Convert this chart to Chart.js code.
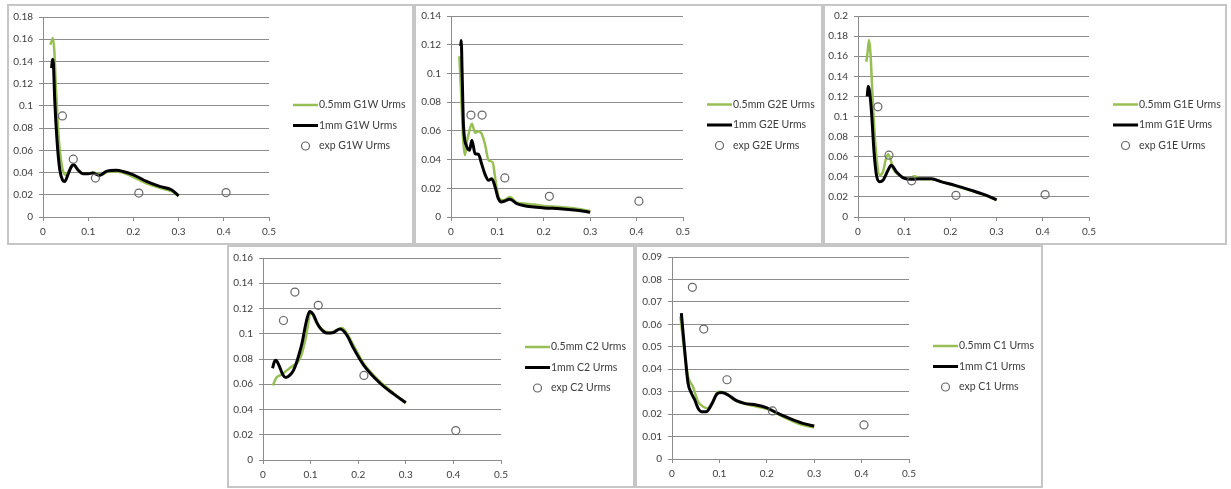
<!DOCTYPE html>
<html>
<head>
<meta charset="utf-8">
<script src="https://cdn.jsdelivr.net/npm/chart.js@4.4.0/dist/chart.umd.min.js"></script>
<style>
  body { margin: 0; background: #fff; width: 1231px; height: 489px; position: relative; overflow: hidden; }
  .panel { position: absolute; box-sizing: border-box; border: 2px solid #c6c6c6; background: #fff; }
  canvas { position: absolute; }
</style>
</head>
<body>
<script>
// shared axis ticks
const xTicks = [0, 0.1, 0.2, 0.3, 0.4, 0.5];
const expX = [0.043, 0.067, 0.116, 0.212, 0.405];

// G1W
const g1wTicks = [0, 0.02, 0.04, 0.06, 0.08, 0.1, 0.12, 0.14, 0.16, 0.18];
const g1wFineX = [0.016, 0.02, 0.022, 0.025, 0.028, 0.032, 0.036, 0.040, 0.044, 0.050, 0.058, 0.068, 0.078, 0.090, 0.100, 0.110, 0.120, 0.130, 0.145, 0.160, 0.175, 0.200, 0.230, 0.260, 0.285, 0.300];
const g1wFineY = [0.155, 0.159, 0.161, 0.150, 0.122, 0.090, 0.065, 0.051, 0.042, 0.038, 0.042, 0.047, 0.042, 0.039, 0.039, 0.040, 0.039, 0.038, 0.041, 0.041, 0.040, 0.036, 0.030, 0.026, 0.023, 0.019];
const g1wCoarseX = [0.019, 0.021, 0.023, 0.026, 0.031, 0.037, 0.043, 0.048, 0.055, 0.063, 0.068, 0.077, 0.088, 0.100, 0.110, 0.125, 0.140, 0.162, 0.177, 0.200, 0.229, 0.258, 0.284, 0.300];
const g1wCoarseY = [0.134, 0.142, 0.138, 0.105, 0.069, 0.043, 0.0335, 0.032, 0.038, 0.0455, 0.047, 0.0425, 0.039, 0.039, 0.0395, 0.0374, 0.041, 0.042, 0.041, 0.038, 0.032, 0.0275, 0.0245, 0.019];
const g1wExpY = [0.091, 0.052, 0.035, 0.0215, 0.022];

// G2E
const g2eTicks = [0, 0.02, 0.04, 0.06, 0.08, 0.1, 0.12, 0.14];
const g2eFineX = [0.018, 0.022, 0.026, 0.030, 0.034, 0.038, 0.045, 0.052, 0.059, 0.066, 0.073, 0.081, 0.090, 0.094, 0.098, 0.104, 0.113, 0.127, 0.142, 0.163, 0.200, 0.235, 0.271, 0.300];
const g2eFineY = [0.112, 0.085, 0.055, 0.043, 0.052, 0.058, 0.065, 0.0586, 0.0598, 0.058, 0.051, 0.0395, 0.038, 0.030, 0.021, 0.0128, 0.0116, 0.014, 0.010, 0.0093, 0.0077, 0.007, 0.0058, 0.0042];
const g2eCoarseX = [0.021, 0.022, 0.024, 0.027, 0.034, 0.040, 0.045, 0.052, 0.059, 0.066, 0.073, 0.081, 0.088, 0.095, 0.102, 0.109, 0.127, 0.142, 0.156, 0.200, 0.235, 0.271, 0.300];
const g2eCoarseY = [0.119, 0.123, 0.100, 0.063, 0.049, 0.0465, 0.0535, 0.044, 0.0437, 0.037, 0.030, 0.0256, 0.0267, 0.021, 0.0128, 0.0105, 0.0123, 0.0093, 0.008, 0.0063, 0.0058, 0.0047, 0.0033];
const g2eExpY = [0.071, 0.071, 0.0272, 0.0144, 0.011];

// G1E
const g1eTicks = [0, 0.02, 0.04, 0.06, 0.08, 0.1, 0.12, 0.14, 0.16, 0.18, 0.2];
const g1eFineX = [0.018, 0.021, 0.024, 0.027, 0.031, 0.035, 0.040, 0.047, 0.054, 0.060, 0.065, 0.070, 0.076, 0.090, 0.108, 0.123, 0.137, 0.159, 0.195, 0.231, 0.267, 0.300];
const g1eFineY = [0.1545, 0.165, 0.176, 0.163, 0.125, 0.090, 0.060, 0.0415, 0.045, 0.057, 0.0625, 0.058, 0.048, 0.0415, 0.038, 0.0405, 0.0375, 0.0375, 0.033, 0.028, 0.023, 0.017];
const g1eCoarseX = [0.020, 0.022, 0.025, 0.029, 0.035, 0.040, 0.047, 0.054, 0.065, 0.072, 0.083, 0.098, 0.116, 0.137, 0.159, 0.181, 0.210, 0.246, 0.275, 0.300];
const g1eCoarseY = [0.120, 0.130, 0.125, 0.106, 0.063, 0.0415, 0.035, 0.0365, 0.0465, 0.0515, 0.045, 0.039, 0.0375, 0.038, 0.038, 0.035, 0.0315, 0.0265, 0.022, 0.017];
const g1eExpY = [0.1096, 0.0615, 0.036, 0.0216, 0.0223];

// C2
const c2Ticks = [0, 0.02, 0.04, 0.06, 0.08, 0.1, 0.12, 0.14, 0.16];
const c2FineX = [0.021, 0.025, 0.029, 0.036, 0.043, 0.050, 0.057, 0.064, 0.071, 0.077, 0.082, 0.087, 0.091, 0.095, 0.098, 0.103, 0.108, 0.113, 0.120, 0.127, 0.141, 0.155, 0.166, 0.176, 0.190, 0.211, 0.246, 0.274, 0.300];
const c2FineY = [0.059, 0.063, 0.0656, 0.067, 0.0688, 0.071, 0.073, 0.075, 0.0767, 0.080, 0.0846, 0.092, 0.099, 0.108, 0.115, 0.116, 0.112, 0.108, 0.105, 0.1026, 0.1005, 0.103, 0.1045, 0.1005, 0.091, 0.0767, 0.062, 0.053, 0.045];
const c2CoarseX = [0.020, 0.024, 0.027, 0.033, 0.042, 0.048, 0.057, 0.064, 0.070, 0.076, 0.082, 0.091, 0.098, 0.106, 0.113, 0.120, 0.134, 0.148, 0.162, 0.176, 0.190, 0.211, 0.246, 0.274, 0.300];
const c2CoarseY = [0.0727, 0.078, 0.079, 0.0754, 0.0674, 0.0653, 0.0674, 0.071, 0.0767, 0.084, 0.0926, 0.1097, 0.1177, 0.115, 0.109, 0.1045, 0.1005, 0.101, 0.1037, 0.099, 0.0886, 0.0754, 0.0608, 0.0524, 0.0455];
const c2ExpY = [0.1105, 0.133, 0.1225, 0.067, 0.0233];

// C1
const c1Ticks = [0, 0.01, 0.02, 0.03, 0.04, 0.05, 0.06, 0.07, 0.08, 0.09];
const c1FineX = [0.0176, 0.0267, 0.034, 0.044, 0.055, 0.065, 0.076, 0.086, 0.097, 0.111, 0.129, 0.150, 0.178, 0.206, 0.234, 0.269, 0.300];
const c1FineY = [0.0635, 0.047, 0.0367, 0.0323, 0.0256, 0.0234, 0.0226, 0.0256, 0.030, 0.0296, 0.0266, 0.0248, 0.0234, 0.0219, 0.0189, 0.0156, 0.014];
const c1CoarseX = [0.0197, 0.0267, 0.0338, 0.041, 0.048, 0.055, 0.062, 0.072, 0.083, 0.095, 0.104, 0.118, 0.136, 0.153, 0.178, 0.199, 0.220, 0.248, 0.276, 0.300];
const c1CoarseY = [0.065, 0.0486, 0.0338, 0.0293, 0.0263, 0.0226, 0.0211, 0.0211, 0.0241, 0.029, 0.0296, 0.0286, 0.026, 0.0248, 0.0241, 0.0229, 0.0207, 0.0181, 0.0159, 0.0147];
const c1ExpY = [0.0765, 0.0579, 0.0353, 0.0214, 0.0152];

const GREEN = '#98bf55';
const GRID = '#8c8c8c';
const TEXT = '#3c3c3c';
const TICK_FONT = { family: 'Lato', size: 10 };
const LEGEND_FONT = '10.5px Lato';

// page boxes: panel border [x1,y1,x2,y2] and plot area [x1,y1,x2,y2]
const panels = [
    { name: 'G1W', box: [7, 4, 414, 245], plot: [43, 17, 269, 217], ticks: g1wTicks, fx: g1wFineX, fy: g1wFineY, cx: g1wCoarseX, cy: g1wCoarseY, ey: g1wExpY },
    { name: 'G2E', box: [414, 4, 823, 245], plot: [451, 16, 683, 217], ticks: g2eTicks, fx: g2eFineX, fy: g2eFineY, cx: g2eCoarseX, cy: g2eCoarseY, ey: g2eExpY },
    { name: 'G1E', box: [823, 4, 1227, 245], plot: [858, 16, 1089, 217], ticks: g1eTicks, fx: g1eFineX, fy: g1eFineY, cx: g1eCoarseX, cy: g1eCoarseY, ey: g1eExpY },
    { name: 'C2', box: [227, 245, 635, 488], plot: [263, 258, 501, 460], ticks: c2Ticks, fx: c2FineX, fy: c2FineY, cx: c2CoarseX, cy: c2CoarseY, ey: c2ExpY },
    { name: 'C1', box: [635, 245, 1043, 488], plot: [672, 257, 909, 459], ticks: c1Ticks, fx: c1FineX, fy: c1FineY, cx: c1CoarseX, cy: c1CoarseY, ey: c1ExpY }
];

const pts = (xs, ys) => xs.map((x, i) => ({ x: x, y: ys[i] }));
const fmt = v => String(+v.toFixed(4));

// legend drawn to the right of the plot area, Excel style
const sideLegend = {
    id: 'sideLegend',
    afterDraw(chart) {
        const { ctx, chartArea } = chart;
        const x0 = chartArea.right + 24;
        const mid = (chartArea.top + chartArea.bottom) / 2 + 8.5;
        ctx.save();
        ctx.font = LEGEND_FONT;
        ctx.textBaseline = 'middle';
        chart.data.datasets.forEach((ds, i) => {
            const y = mid + (i - 1) * 20.5;
            if (ds.showLine) {
                ctx.strokeStyle = ds.borderColor;
                ctx.lineWidth = ds.borderWidth;
                ctx.beginPath();
                ctx.moveTo(x0, y);
                ctx.lineTo(x0 + 25, y);
                ctx.stroke();
            } else {
                ctx.strokeStyle = ds.pointBorderColor;
                ctx.lineWidth = ds.pointBorderWidth;
                ctx.beginPath();
                ctx.arc(x0 + 12.5, y, ds.pointRadius, 0, Math.PI * 2);
                ctx.stroke();
            }
            ctx.fillStyle = TEXT;
            ctx.fillText(ds.label, x0 + 26, y);
        });
        ctx.restore();
    }
};

panels.forEach(p => {
    const [bx1, by1, bx2, by2] = p.box;
    const [px1, py1, px2, py2] = p.plot;
    const W = bx2 - bx1, H = by2 - by1;

    const frame = document.createElement('div');
    frame.className = 'panel';
    Object.assign(frame.style, { left: bx1 + 'px', top: by1 + 'px', width: W + 'px', height: H + 'px' });
    document.body.appendChild(frame);

    const canvas = document.createElement('canvas');
    canvas.width = W;
    canvas.height = H;
    Object.assign(canvas.style, { left: bx1 + 'px', top: by1 + 'px', width: W + 'px', height: H + 'px' });
    document.body.appendChild(canvas);

    const yw = 30;

    new Chart(canvas, {
        type: 'scatter',
        data: {
            datasets: [
                {
                    label: '0.5mm ' + p.name + ' Urms',
                    data: pts(p.fx, p.fy),
                    showLine: true,
                    borderColor: GREEN,
                    borderWidth: 2.5,
                    pointRadius: 0,
                    cubicInterpolationMode: 'monotone',
                    order: 2
                },
                {
                    label: '1mm ' + p.name + ' Urms',
                    data: pts(p.cx, p.cy),
                    showLine: true,
                    borderColor: '#000000',
                    borderWidth: 3,
                    pointRadius: 0,
                    cubicInterpolationMode: 'monotone',
                    order: 1
                },
                {
                    label: 'exp ' + p.name + ' Urms',
                    data: pts(expX, p.ey),
                    showLine: false,
                    pointRadius: 4,
                    pointBorderWidth: 1.2,
                    pointBorderColor: '#666666',
                    pointBackgroundColor: 'rgba(255,255,255,0)',
                    order: 0
                }
            ]
        },
        options: {
            responsive: false,
            animation: false,
            events: [],
            layout: {
                padding: { left: px1 - bx1 - yw, top: py1 - by1, right: bx2 - px2, bottom: 0 }
            },
            plugins: {
                legend: { display: false },
                tooltip: { enabled: false }
            },
            scales: {
                x: {
                    type: 'linear',
                    min: xTicks[0],
                    max: xTicks[xTicks.length - 1],
                    afterBuildTicks: s => { s.ticks = xTicks.map(v => ({ value: v })); },
                    afterFit: s => { s.height = by2 - py2; },
                    ticks: { callback: fmt, color: TEXT, font: TICK_FONT, padding: 5, maxRotation: 0, autoSkip: false },
                    grid: { drawOnChartArea: false, drawTicks: true, tickLength: 4, color: GRID },
                    border: { color: GRID }
                },
                y: {
                    type: 'linear',
                    min: p.ticks[0],
                    max: p.ticks[p.ticks.length - 1],
                    afterBuildTicks: s => { s.ticks = p.ticks.map(v => ({ value: v })); },
                    afterFit: s => { s.width = yw; },
                    ticks: { callback: fmt, color: TEXT, font: TICK_FONT, padding: 6, autoSkip: false },
                    grid: { color: GRID, tickLength: 4 },
                    border: { color: GRID }
                }
            }
        },
        plugins: [sideLegend]
    });
});
</script>
</body>
</html>
